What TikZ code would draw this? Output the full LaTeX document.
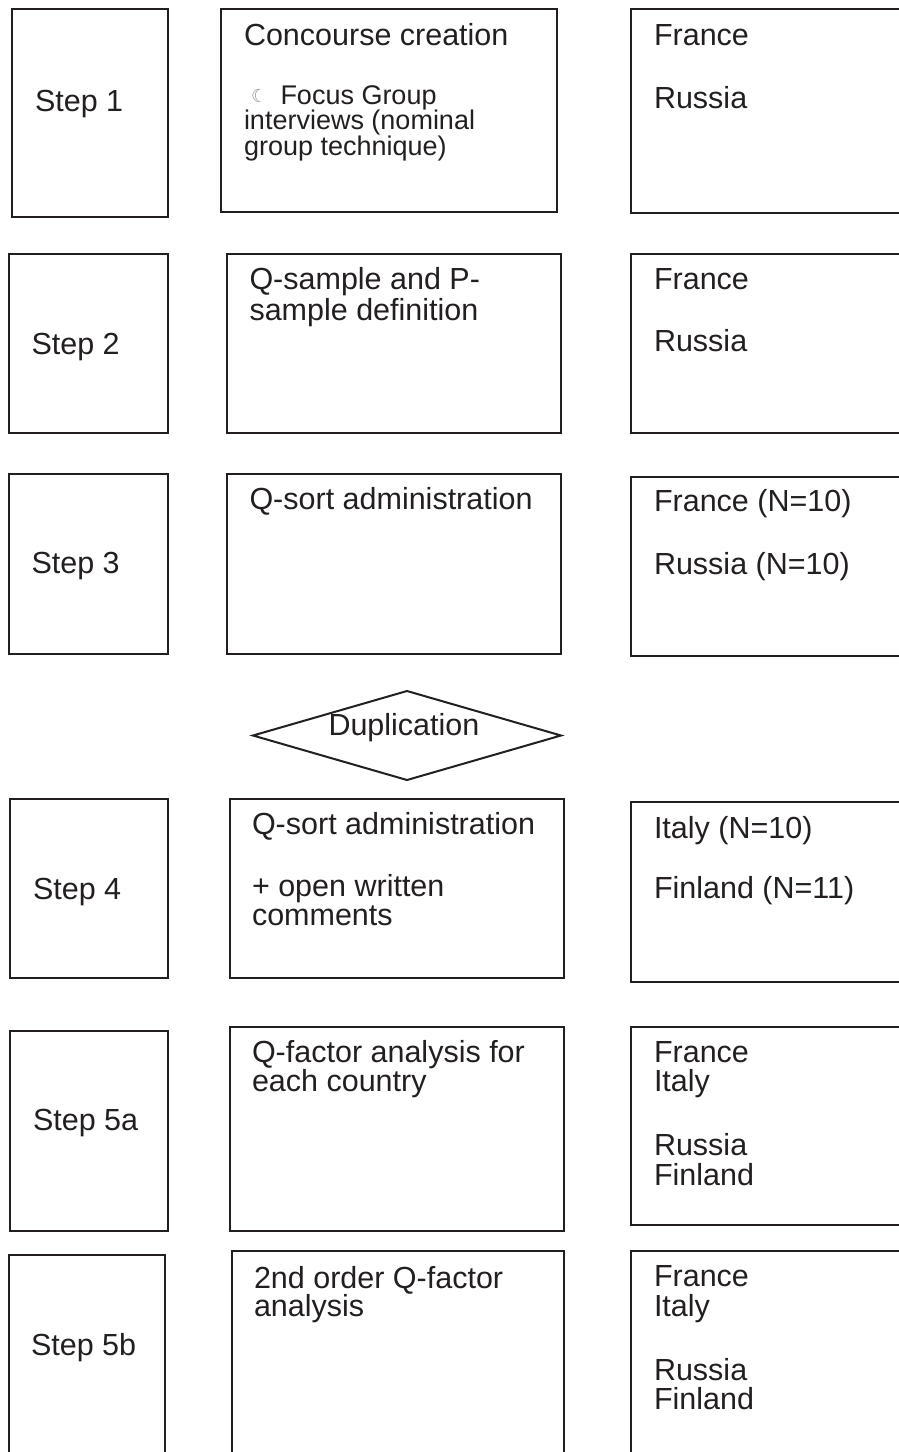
\documentclass[tikz,border=0pt]{standalone}
\usepackage{fontspec}
\setmainfont{Liberation Sans}
\newfontfamily\moonfont{DejaVu Sans}
\usetikzlibrary{shapes.geometric,fit}
\definecolor{ink}{HTML}{231F20}
\definecolor{moongray}{HTML}{8A8A8A}
\begin{document}
\begin{tikzpicture}[x=1pt,y=-1pt,
  frame/.style={draw=ink, line width=2pt, rectangle, inner sep=0pt, outer sep=0pt},
  txt/.style={anchor=base west, inner sep=0pt, outer sep=0pt, text=ink, font=\fontsize{30.5}{31}\selectfont},
  smalltxt/.style={txt, font=\fontsize{27}{26}\selectfont},
  moon/.style={anchor=base west, inner sep=0pt, outer sep=0pt, text=moongray, font=\moonfont\fontsize{18}{18}\selectfont},
  dia/.style={draw=ink, line width=2pt, diamond, inner sep=0pt, outer sep=0pt, minimum width=308pt, minimum height=89pt}
]
\useasboundingbox (0,0) rectangle (899,1452);
\clip (0,0) rectangle (899,1452);

% ---------- Row 1 ----------
\node[frame, fit={(11.5,9.3) (167.7,216.7)}] (s1) {};
\node[frame, fit={(221,9.3) (557,212.3)}] (m1) {};
\node[frame, fit={(631,9.3) (910,213.3)}] (r1) {};
\node[txt] (s1t) at (35,111.7) {Step 1};
\node[txt] (m1a) at (244,45) {Concourse creation};
\node[moon] (m1m) at (251,102) {☾};
\node[smalltxt] (m1b) at (280.5,104) {Focus Group};
\node[smalltxt] (m1c) at (244,129.5) {interviews (nominal};
\node[smalltxt] (m1d) at (244,155) {group technique)};
\node[txt] (r1a) at (654,45) {France};
\node[txt] (r1b) at (654,108.3) {Russia};

% ---------- Row 2 ----------
\node[frame, fit={(8.5,254) (168,433)}] (s2) {};
\node[frame, fit={(227,254) (561,433)}] (m2) {};
\node[frame, fit={(631,254) (910,433)}] (r2) {};
\node[txt] (s2t) at (31.5,354) {Step 2};
\node[txt] (m2a) at (249.5,289.3) {Q-sample and P-};
\node[txt] (m2b) at (249.5,320) {sample definition};
\node[txt] (r2a) at (654,289.3) {France};
\node[txt] (r2b) at (654,351.7) {Russia};

% ---------- Row 3 ----------
\node[frame, fit={(8.5,473.5) (168,653.5)}] (s3) {};
\node[frame, fit={(227,473.5) (561,653.5)}] (m3) {};
\node[frame, fit={(631,476.5) (910,656)}] (r3) {};
\node[txt] (s3t) at (31.5,573.3) {Step 3};
\node[txt] (m3a) at (249.5,509.3) {Q-sort administration};
\node[txt] (r3a) at (654,511.7) {France (N=10)};
\node[txt] (r3b) at (654,574.3) {Russia (N=10)};

% ---------- Duplication ----------
\node[dia] (dup) at (407,735.5) {};
\node[txt] (dupt) at (328.5,735) {Duplication};

% ---------- Row 4 ----------
\node[frame, fit={(9.5,799) (168,978)}] (s4) {};
\node[frame, fit={(230,799) (564,978)}] (m4) {};
\node[frame, fit={(631,801.5) (910,981.5)}] (r4) {};
\node[txt] (s4t) at (33,899.3) {Step 4};
\node[txt] (m4a) at (252,834) {Q-sort administration};
\node[txt] (m4b) at (252,896) {+ open written};
\node[txt] (m4c) at (252,925) {comments};
\node[txt] (r4a) at (654,838.3) {Italy (N=10)};
\node[txt] (r4b) at (654,898.3) {Finland (N=11)};

% ---------- Row 5 ----------
\node[frame, fit={(9.5,1030.5) (168,1230.5)}] (s5) {};
\node[frame, fit={(230,1027) (564,1230.5)}] (m5) {};
\node[frame, fit={(631,1027) (910,1225)}] (r5) {};
\node[txt] (s5t) at (33,1130.7) {Step 5a};
\node[txt] (m5a) at (252,1062.7) {Q-factor analysis for};
\node[txt] (m5b) at (252,1091.7) {each country};
\node[txt] (r5a) at (654,1062.7) {France};
\node[txt] (r5b) at (654,1091.7) {Italy};
\node[txt] (r5c) at (654,1155) {Russia};
\node[txt] (r5d) at (654,1185) {Finland};

% ---------- Row 6 ----------
\node[frame, fit={(9.3,1255) (165,1470)}] (s6) {};
\node[frame, fit={(232,1251) (564,1470)}] (m6) {};
\node[frame, fit={(631,1251) (910,1470)}] (r6) {};
\node[txt] (s6t) at (31,1355) {Step 5b};
\node[txt] (m6a) at (254,1288) {2nd order Q-factor};
\node[txt] (m6b) at (254,1316.7) {analysis};
\node[txt] (r6a) at (654,1286) {France};
\node[txt] (r6b) at (654,1316.7) {Italy};
\node[txt] (r6c) at (654,1380) {Russia};
\node[txt] (r6d) at (654,1409.3) {Finland};
\end{tikzpicture}
\end{document}
